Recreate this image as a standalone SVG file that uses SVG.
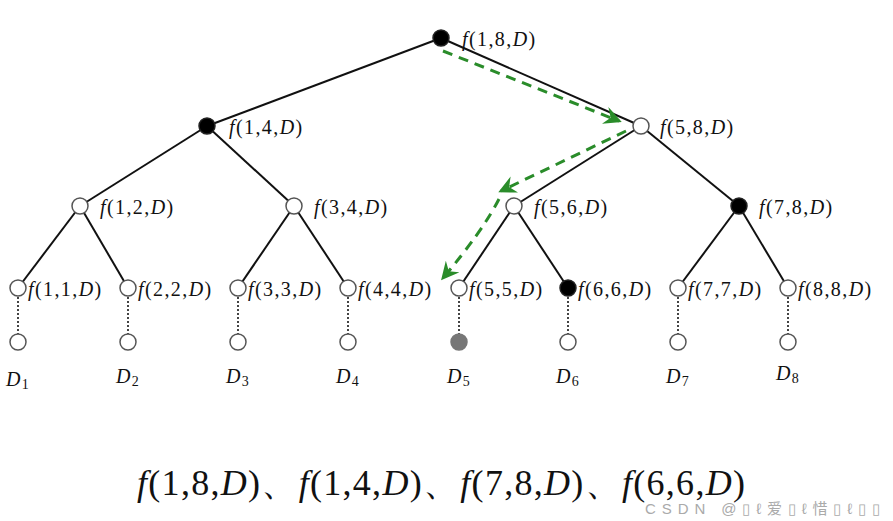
<svg xmlns="http://www.w3.org/2000/svg" width="893" height="521" viewBox="0 0 893 521">
<style>
.t{font-family:"Liberation Serif","Times New Roman",serif;font-size:20px;fill:#111;letter-spacing:1.4px}
.i{font-style:italic}
.big{font-family:"Liberation Serif","Times New Roman",serif;font-size:36px;fill:#111}
.sub{font-size:14px}
.e{stroke:#111;stroke-width:2;fill:none}
.d{stroke:#444;stroke-width:2;stroke-dasharray:2 2;fill:none}
.w{fill:#fff;stroke:#555;stroke-width:1.5}
.b{fill:#000;stroke:#222;stroke-width:1.5}
.g{fill:#777;stroke:#777;stroke-width:1.5}
.a{stroke:#2a8c2a;stroke-width:3;stroke-dasharray:10 7;fill:none}
.wm{font-family:"Liberation Sans",Arial,"Noto Sans CJK SC",sans-serif;font-size:15px;fill:#aaa}
</style>
<defs>
<marker id="ah" viewBox="0 0 12 12" refX="10" refY="6" markerWidth="6" markerHeight="6" orient="auto" markerUnits="strokeWidth">
<path d="M0,0 L12,6 L0,12 L4,6 z" fill="#2a8c2a"/>
</marker>
</defs>
<rect width="893" height="521" fill="#fff"/>
<g id="edges">
<line class="e" x1="441" y1="38" x2="207" y2="126"/>
<line class="e" x1="441" y1="38" x2="641" y2="126"/>
<line class="e" x1="207" y1="126" x2="80" y2="206"/>
<line class="e" x1="207" y1="126" x2="294" y2="206"/>
<line class="e" x1="641" y1="126" x2="514" y2="206"/>
<line class="e" x1="641" y1="126" x2="739" y2="206"/>
<line class="e" x1="80" y1="206" x2="18" y2="288"/>
<line class="e" x1="80" y1="206" x2="128" y2="288"/>
<line class="e" x1="294" y1="206" x2="238" y2="288"/>
<line class="e" x1="294" y1="206" x2="348" y2="288"/>
<line class="e" x1="514" y1="206" x2="459" y2="288"/>
<line class="e" x1="514" y1="206" x2="568" y2="288"/>
<line class="e" x1="739" y1="206" x2="678" y2="288"/>
<line class="e" x1="739" y1="206" x2="788" y2="288"/>
<line class="d" x1="18" y1="297" x2="18" y2="334"/>
<line class="d" x1="128" y1="297" x2="128" y2="334"/>
<line class="d" x1="238" y1="297" x2="238" y2="334"/>
<line class="d" x1="348" y1="297" x2="348" y2="334"/>
<line class="d" x1="459" y1="297" x2="459" y2="334"/>
<line class="d" x1="568" y1="297" x2="568" y2="334"/>
<line class="d" x1="678" y1="297" x2="678" y2="334"/>
<line class="d" x1="788" y1="297" x2="788" y2="334"/>
<path class="a" d="M443,51 L619,121" marker-end="url(#ah)"/>
<path class="a" d="M626,131 L501,191" marker-end="url(#ah)"/>
<path class="a" d="M499,199 Q482,232 443,278" marker-end="url(#ah)"/>
</g>
<g id="n18"><circle class="b" cx="441" cy="38" r="8"/><text class="t" x="462" y="46"><tspan class="i">f</tspan>(1,8,<tspan class="i">D</tspan>)</text></g>
<g id="n14"><circle class="b" cx="207" cy="126" r="8"/><text class="t" x="229" y="134"><tspan class="i">f</tspan>(1,4,<tspan class="i">D</tspan>)</text></g>
<g id="n58"><circle class="w" cx="641" cy="126" r="8"/><text class="t" x="660" y="134"><tspan class="i">f</tspan>(5,8,<tspan class="i">D</tspan>)</text></g>
<g id="n12"><circle class="w" cx="80" cy="206" r="8"/><text class="t" x="100" y="214"><tspan class="i">f</tspan>(1,2,<tspan class="i">D</tspan>)</text></g>
<g id="n34"><circle class="w" cx="294" cy="206" r="8"/><text class="t" x="314" y="214"><tspan class="i">f</tspan>(3,4,<tspan class="i">D</tspan>)</text></g>
<g id="n56"><circle class="w" cx="514" cy="206" r="8"/><text class="t" x="534" y="214"><tspan class="i">f</tspan>(5,6,<tspan class="i">D</tspan>)</text></g>
<g id="n78"><circle class="b" cx="739" cy="206" r="8"/><text class="t" x="759" y="214"><tspan class="i">f</tspan>(7,8,<tspan class="i">D</tspan>)</text></g>
<g id="n11"><circle class="w" cx="18" cy="288" r="8"/><text class="t" x="28" y="296"><tspan class="i">f</tspan>(1,1,<tspan class="i">D</tspan>)</text></g>
<g id="n22"><circle class="w" cx="128" cy="288" r="8"/><text class="t" x="138" y="296"><tspan class="i">f</tspan>(2,2,<tspan class="i">D</tspan>)</text></g>
<g id="n33"><circle class="w" cx="238" cy="288" r="8"/><text class="t" x="248" y="296"><tspan class="i">f</tspan>(3,3,<tspan class="i">D</tspan>)</text></g>
<g id="n44"><circle class="w" cx="348" cy="288" r="8"/><text class="t" x="358" y="296"><tspan class="i">f</tspan>(4,4,<tspan class="i">D</tspan>)</text></g>
<g id="n55"><circle class="w" cx="459" cy="288" r="8"/><text class="t" x="469" y="296"><tspan class="i">f</tspan>(5,5,<tspan class="i">D</tspan>)</text></g>
<g id="n66"><circle class="b" cx="568" cy="288" r="8"/><text class="t" x="578" y="296"><tspan class="i">f</tspan>(6,6,<tspan class="i">D</tspan>)</text></g>
<g id="n77"><circle class="w" cx="678" cy="288" r="8"/><text class="t" x="688" y="296"><tspan class="i">f</tspan>(7,7,<tspan class="i">D</tspan>)</text></g>
<g id="n88"><circle class="w" cx="788" cy="288" r="8"/><text class="t" x="798" y="296"><tspan class="i">f</tspan>(8,8,<tspan class="i">D</tspan>)</text></g>
<g id="d1"><circle class="w" cx="18" cy="342" r="8"/><text class="t" x="6" y="386"><tspan class="i">D</tspan><tspan class="sub" dy="3">1</tspan></text></g>
<g id="d2"><circle class="w" cx="128" cy="342" r="8"/><text class="t" x="116" y="383"><tspan class="i">D</tspan><tspan class="sub" dy="3">2</tspan></text></g>
<g id="d3"><circle class="w" cx="238" cy="342" r="8"/><text class="t" x="226" y="383"><tspan class="i">D</tspan><tspan class="sub" dy="3">3</tspan></text></g>
<g id="d4"><circle class="w" cx="348" cy="342" r="8"/><text class="t" x="336" y="383"><tspan class="i">D</tspan><tspan class="sub" dy="3">4</tspan></text></g>
<g id="d5"><circle class="g" cx="459" cy="342" r="8"/><text class="t" x="447" y="383"><tspan class="i">D</tspan><tspan class="sub" dy="3">5</tspan></text></g>
<g id="d6"><circle class="w" cx="568" cy="342" r="8"/><text class="t" x="556" y="383"><tspan class="i">D</tspan><tspan class="sub" dy="3">6</tspan></text></g>
<g id="d7"><circle class="w" cx="678" cy="342" r="8"/><text class="t" x="666" y="383"><tspan class="i">D</tspan><tspan class="sub" dy="3">7</tspan></text></g>
<g id="d8"><circle class="w" cx="788" cy="342" r="8"/><text class="t" x="776" y="380"><tspan class="i">D</tspan><tspan class="sub" dy="3">8</tspan></text></g>
<text class="big" x="137" y="495" textLength="608" lengthAdjust="spacing"><tspan class="i">f</tspan>(1,8,<tspan class="i">D</tspan>)、<tspan class="i">f</tspan>(1,4,<tspan class="i">D</tspan>)、<tspan class="i">f</tspan>(7,8,<tspan class="i">D</tspan>)、<tspan class="i">f</tspan>(6,6,<tspan class="i">D</tspan>)</text>
<text class="wm" x="645" y="514" textLength="235" lengthAdjust="spacing">CSDN @▯ℓ爱▯ℓ惜▯ℓ▯▯</text>
</svg>
